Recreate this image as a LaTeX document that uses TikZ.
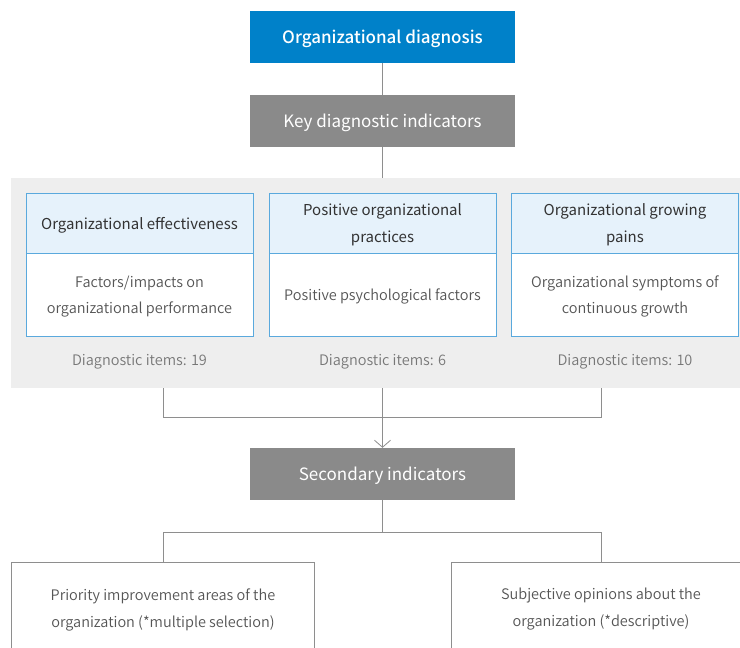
\documentclass[tikz,border=0pt]{standalone}
\usepackage{fontspec}
\setmainfont{Noto Sans CJK KR}
\newfontfamily\medfont{Noto Sans CJK KR Medium}
\newfontfamily\lightfont{Noto Sans CJK KR DemiLight}
\usetikzlibrary{arrows.meta}
\definecolor{dblue}{HTML}{0081C9}
\definecolor{dgray}{HTML}{8A8A8A}
\definecolor{panelgray}{HTML}{EEEEEE}
\definecolor{lblue}{HTML}{5AA9DD}
\definecolor{hblue}{HTML}{E6F2FB}
\definecolor{txtdark}{HTML}{333333}
\definecolor{txtmid}{HTML}{555555}
\definecolor{txtitem}{HTML}{777777}
\definecolor{linegray}{HTML}{8E8E8E}
\tikzset{
  mainbox/.style={minimum width=265pt, minimum height=52pt, inner sep=0pt},
  maintext/.style={text=white, inner sep=0pt, font=\fontsize{17}{20}\selectfont},
  headbox/.style={draw=lblue, fill=hblue, line width=0.9pt, minimum width=227pt, minimum height=60pt, inner sep=0pt},
  headtext/.style={align=center, inner sep=0pt, text=txtdark, font=\fontsize{15}{27}\selectfont},
  bodybox/.style={draw=lblue, fill=white, line width=0.9pt, minimum width=227pt, minimum height=83pt, inner sep=0pt},
  bodytext/.style={align=center, inner sep=0pt, text=txtmid, font=\lightfont\fontsize{14.5}{26}\selectfont},
  itemtext/.style={text=txtitem, font=\lightfont\fontsize{14.5}{18}\selectfont, inner sep=0pt},
  conn/.style={draw=linegray, line width=0.8pt},
  bottext/.style={text=txtmid, font=\lightfont\fontsize{14.5}{27}\selectfont, align=center, inner sep=0pt},
}
\begin{document}
\begin{tikzpicture}[x=1pt, y=-1pt]
\clip (0,0) rectangle (740,648);
\fill[white] (0,0) rectangle (740,648);
% panel
\fill[panelgray] (11,178) rectangle (745,388);
\node[mainbox, fill=dblue] (diag) at (382.5,37) {};
\node[maintext, font=\medfont\fontsize{17}{20}\selectfont] (diagT) at ([yshift=-2pt]diag.center) {Organizational diagnosis};
\node[mainbox, fill=dgray] (key) at (382.5,121) {};
\node[maintext] (keyT) at ([yshift=-2pt]key.center) {Key diagnostic indicators};
\node[mainbox, fill=dgray] (sec) at (382.5,474) {};
\node[maintext] (secT) at ([yshift=-2pt]sec.center) {Secondary indicators};
% three boxes
\node[bodybox] (b1) at (139.5,294.5) {};
\node[bodytext] (b1T) at ([yshift=-2pt]b1.center) {Factors/impacts on\\organizational performance};
\node[headbox] (h1) at (139.5,223) {};
\node[headtext] (h1T) at ([yshift=-2pt]h1.center) {Organizational effectiveness};
\node[bodybox] (b2) at (382.5,294.5) {};
\node[bodytext] (b2T) at ([yshift=-2pt]b2.center) {Positive psychological factors};
\node[headbox] (h2) at (382.5,223) {};
\node[headtext] (h2T) at ([yshift=-2pt]h2.center) {Positive organizational\\practices};
\node[bodybox] (b3) at (625,294.5) {};
\node[bodytext] (b3T) at ([yshift=-2pt]b3.center) {Organizational symptoms of\\continuous growth};
\node[headbox] (h3) at (625,223) {};
\node[headtext] (h3T) at ([yshift=-2pt]h3.center) {Organizational growing\\pains};
\node[itemtext] (i1) at (139.5,361.5) {Diagnostic items: 19};
\node[itemtext] (i2) at (382.5,361.5) {Diagnostic items: 6};
\node[itemtext] (i3) at (625,361.5) {Diagnostic items: 10};
% coordinates
\coordinate (pL) at (163,388);
\coordinate (pC) at (382.5,388);
\coordinate (pR) at (601,388);
\coordinate (panelTop) at (382.5,178);
\coordinate (jL) at (163,417);
\coordinate (jR) at (601,417);
\coordinate (kL) at (163,532);
\coordinate (kC) at (382.5,532);
\coordinate (kR) at (601,532);
% bottom boxes (open at the bottom edge of the picture)
\draw[draw=linegray, line width=0.8pt] (11,660) -- (11,562) -- (314,562) -- (314,660);
\draw[draw=linegray, line width=0.8pt] (451,660) -- (451,562) -- (760,562) -- (760,660);
\coordinate (lb) at (163,562);
\coordinate (rb) at (601,562);
\node[bottext] (t1) at (163,609.5) {Priority improvement areas of the\\organization (*multiple selection)};
\node[bottext] (t2) at (601,609.5) {Subjective opinions about the\\organization (*descriptive)};
% connectors
\draw[conn] (diag.south) -- (key.north);
\draw[conn] (key.south) -- (panelTop);
\draw[conn] (pL) -- (jL) -- (jR) -- (pR);
\draw[conn, -{Straight Barb[length=7pt, width=16pt]}] (pC) -- (sec.north);
\draw[conn] (sec.south) -- (kC);
\draw[conn] (lb) -- (kL) -- (kR) -- (rb);
\end{tikzpicture}
\end{document}
